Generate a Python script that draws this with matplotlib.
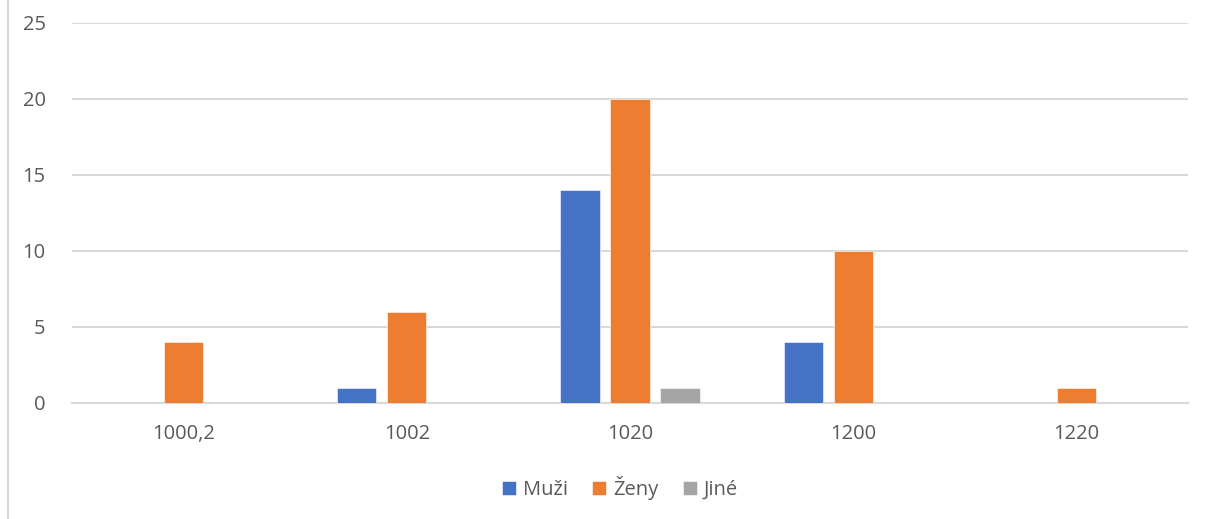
import numpy as np
import matplotlib.pyplot as plt
from matplotlib.lines import Line2D

plt.rcParams['font.family'] = ['Open Sans', 'DejaVu Sans']

# Data
categories = ['1000,2', '1002', '1020', '1200', '1220']
muzi = [0, 1, 14, 4, 0]
zeny = [4, 6, 20, 10, 1]
jine = [0, 0, 1, 0, 0]

series = [('Muži', muzi, '#4472C4'), ('Ženy', zeny, '#ED7D31'), ('Jiné', jine, '#A5A5A5')]

fig = plt.figure(figsize=(12.14, 5.19), dpi=100)
ax = fig.add_axes([72 / 1214, 1 - 403 / 519, (1188 - 72) / 1214, (403 - 23) / 519])

x = np.arange(len(categories))
width = 0.175
step = 0.224
for i, (name, vals, color) in enumerate(series):
    ax.bar(x + (i - 1) * step, vals, width=width, color=color, label=name,
           edgecolor='white', linewidth=0.4, zorder=3)

ax.set_xlim(-0.5, len(categories) - 0.5)
ax.set_ylim(0, 25)
ax.set_yticks(range(0, 26, 5))
ax.set_xticks(x)
ax.set_xticklabels(categories)
ax.yaxis.grid(True, color='#D9D9D9', linewidth=1.5, zorder=0)
ax.tick_params(axis='both', length=0, labelsize=14.5, labelcolor='#595959')
ax.tick_params(axis='y', pad=19)
ax.tick_params(axis='x', pad=15)
for s in ['top', 'right', 'left']:
    ax.spines[s].set_visible(False)
ax.spines['bottom'].set_color('#D9D9D9')
ax.spines['bottom'].set_linewidth(1.5)

leg = fig.legend(loc='center', bbox_to_anchor=(620 / 1214, 1 - 488 / 519), ncol=3,
                 frameon=False, fontsize=14.5, handlelength=0.7, handleheight=0.7,
                 handletextpad=0.35, columnspacing=1.2)
for t in leg.get_texts():
    t.set_color('#595959')

# outer chart border on the left edge
fig.add_artist(Line2D([8 / 1214, 8 / 1214], [0, 1], color='#D9D9D9', linewidth=1.5))

plt.savefig('out.png')
